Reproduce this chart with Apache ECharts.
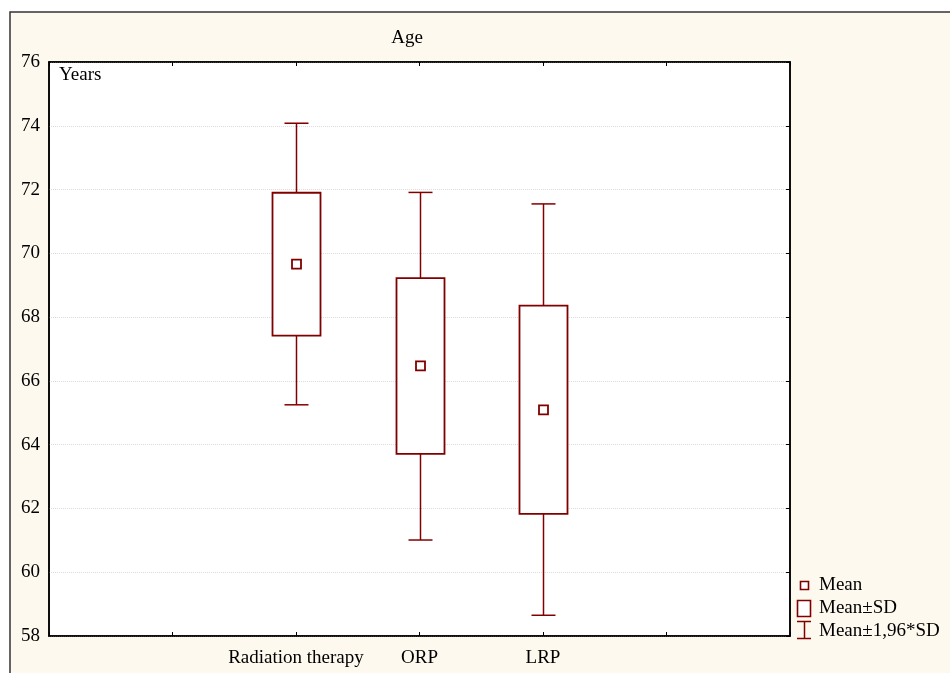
<!DOCTYPE html>
<html>
<head>
<meta charset="utf-8">
<script src="https://cdn.jsdelivr.net/npm/echarts@6/dist/echarts.min.js"></script>
<style>
  html, body { margin: 0; padding: 0; background: #fff; }
  #chart { width: 950px; height: 673px; }
</style>
</head>
<body>
<div id="chart"></div>
<script>
// x slots: empty slots left and right keep the groups where they are in the picture
const slots = ["", "", "Radiation therapy", "ORP", "LRP", "", ""];
const groups = ["Radiation therapy", "ORP", "LRP"];
const means = [69.66, 66.47, 65.09];
const sdLow = [67.42, 63.71, 61.83];
const sdHigh = [71.90, 69.22, 68.36];
const ciLow = [65.25, 61.01, 58.65]; // mean - 1.96*SD
const ciHigh = [74.08, 71.91, 71.55]; // mean + 1.96*SD
const yTicks = [58, 60, 62, 64, 66, 68, 70, 72, 74, 76];

const red = "#800000";
const font = "'Liberation Serif', 'Times New Roman', serif";
const fs = 19;

const boxData = groups.map((g, i) => [slots.indexOf(g), ciLow[i], sdLow[i], means[i], sdHigh[i], ciHigh[i]]);

function renderBox(params, api) {
  const x = api.value(0);
  const pLo = api.coord([x, api.value(1)]);
  const pSdLo = api.coord([x, api.value(2)]);
  const pMean = api.coord([x, api.value(3)]);
  const pSdHi = api.coord([x, api.value(4)]);
  const pHi = api.coord([x, api.value(5)]);
  const cx = Math.round(pMean[0]) + 0.5;
  const line = { stroke: red, lineWidth: 1.5 };
  return {
    type: "group",
    children: [
      { type: "line", shape: { x1: cx, y1: pSdHi[1], x2: cx, y2: pHi[1] }, style: line },
      { type: "line", shape: { x1: cx - 12, y1: pHi[1], x2: cx + 12, y2: pHi[1] }, style: line },
      { type: "line", shape: { x1: cx, y1: pSdLo[1], x2: cx, y2: pLo[1] }, style: line },
      { type: "line", shape: { x1: cx - 12, y1: pLo[1], x2: cx + 12, y2: pLo[1] }, style: line },
      { type: "rect", shape: { x: cx - 24, y: pSdHi[1], width: 48, height: pSdLo[1] - pSdHi[1] },
        style: { fill: "#fff", stroke: red, lineWidth: 1.8 } },
      { type: "rect", shape: { x: cx - 4.5, y: pMean[1] - 4.5, width: 9, height: 9 },
        style: { fill: "#fff", stroke: red, lineWidth: 1.8 } }
    ]
  };
}

const chart = echarts.init(document.getElementById("chart"));
chart.setOption({
  animation: false,
  backgroundColor: "transparent",
  grid: { left: 49, top: 62, right: 160, bottom: 37, show: true, backgroundColor: "#fff", borderColor: "#000", borderWidth: 1.5 },
  xAxis: [
    {
      type: "category", data: slots, boundaryGap: false, position: "bottom",
      axisLine: { lineStyle: { color: "#000", width: 1.5 } },
      axisTick: { inside: true, length: 4, lineStyle: { color: "#000" } },
      axisLabel: { color: "#000", fontFamily: font, fontSize: fs, margin: 13, interval: 0 },
      splitLine: { show: false }
    },
    {
      type: "category", data: slots, boundaryGap: false, position: "top",
      axisLine: { lineStyle: { color: "#000", width: 1.5 } },
      axisTick: { inside: true, length: 4, lineStyle: { color: "#000" } },
      axisLabel: { show: false }, splitLine: { show: false }
    }
  ],
  yAxis: [
    {
      type: "value", min: yTicks[0], max: yTicks[yTicks.length - 1], interval: 2,
      axisLine: { show: true, lineStyle: { color: "#000", width: 1.5 } },
      axisTick: { show: false },
      axisLabel: { color: "#000", fontFamily: font, fontSize: fs, margin: 9 },
      splitLine: { show: true, lineStyle: { color: "#dcdcdc", type: "dotted", width: 1 } }
    },
    {
      type: "value", min: yTicks[0], max: yTicks[yTicks.length - 1], interval: 2, position: "right",
      axisLine: { show: true, lineStyle: { color: "#000", width: 1.5 } },
      axisTick: { show: true, inside: true, length: 4, lineStyle: { color: "#000" } },
      axisLabel: { show: false }, splitLine: { show: false }
    }
  ],
  graphic: [
    { type: "rect", z: -10, silent: true, shape: { x: 10, y: 12, width: 960, height: 680 },
      style: { fill: "#fdf9ee", stroke: "#333", lineWidth: 1.5 } },
    { type: "text", x: 407, y: 38, style: { text: "Age", font: fs + "px " + font, fill: "#000", align: "center", verticalAlign: "middle" } },
    { type: "text", x: 59, y: 75, z: 10, style: { text: "Years", font: fs + "px " + font, fill: "#000", verticalAlign: "middle" } },
    // legend
    { type: "rect", shape: { x: 800.5, y: 581.5, width: 8, height: 8 }, style: { fill: "#fff", stroke: red, lineWidth: 1.6 } },
    { type: "text", x: 819, y: 585, style: { text: "Mean", font: fs + "px " + font, fill: "#000", verticalAlign: "middle" } },
    { type: "rect", shape: { x: 797.5, y: 600.5, width: 13, height: 16 }, style: { fill: "#fff", stroke: red, lineWidth: 1.6 } },
    { type: "text", x: 819, y: 608, style: { text: "Mean±SD", font: fs + "px " + font, fill: "#000", verticalAlign: "middle" } },
    { type: "line", shape: { x1: 797, y1: 621.5, x2: 811, y2: 621.5 }, style: { stroke: red, lineWidth: 1.5 } },
    { type: "line", shape: { x1: 804.5, y1: 621.5, x2: 804.5, y2: 638.5 }, style: { stroke: red, lineWidth: 1.5 } },
    { type: "line", shape: { x1: 797, y1: 638.5, x2: 811, y2: 638.5 }, style: { stroke: red, lineWidth: 1.5 } },
    { type: "text", x: 819, y: 631, style: { text: "Mean±1,96*SD", font: fs + "px " + font, fill: "#000", verticalAlign: "middle" } }
  ],
  series: [
    {
      type: "custom", name: "Age", xAxisIndex: 0, yAxisIndex: 0,
      renderItem: renderBox,
      encode: { x: 0, y: [1, 2, 3, 4, 5] },
      data: boxData
    }
  ]
});
</script>
</body>
</html>
